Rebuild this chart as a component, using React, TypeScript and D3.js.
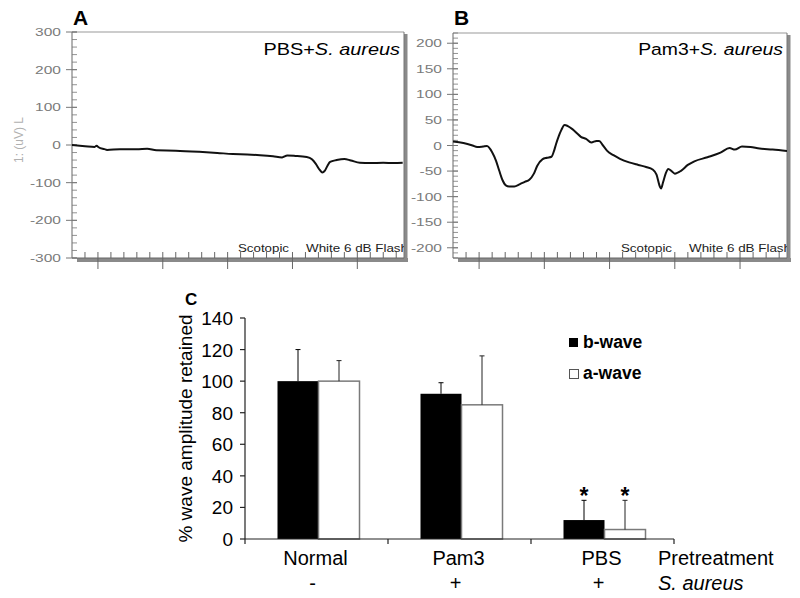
import React from "react";
import * as d3 from "d3";

// ---------- Panel A: PBS + S. aureus ERG trace ----------
const timeA = [-20, -10, -2.5, -1, 0.5, 5, 7, 17, 30, 38, 45, 60, 78, 92, 104, 115, 125, 135, 142, 146, 152, 161, 165, 168, 171, 173, 175, 177, 179, 184, 190, 195, 202, 210, 220, 228, 235];
const voltA = [0, -3, -5, -2, -6, -11, -13, -11, -11, -10, -14, -15, -18, -21, -24, -25, -27, -30, -33, -28, -29, -32, -38, -50, -66, -73, -68, -55, -45, -40, -37, -41, -47, -48, -47, -48, -47];

// ---------- Panel B: Pam3 + S. aureus ERG trace ----------
const timeB = [-20, -12, -5, -1.5, 3, 6, 10, 13, 15.4, 18, 20.5, 23, 27, 31, 35, 38.5, 42, 44.5, 48.5, 52, 55.5, 57.5, 59, 61, 63, 65.5, 68, 71.5, 75, 78, 82, 86, 90, 92, 95, 98, 103, 108, 115, 122, 128, 133, 136, 138.5, 139.5, 141, 143, 145, 147.5, 150, 155, 160, 165, 175, 185, 192, 196, 201.5, 208, 215, 225, 236];
const voltB = [8, 5, 0, -3, -2, -1, -13, -30, -49, -68, -78, -80, -80, -76, -71, -67, -55, -40, -27, -24, -22, -10, 3, 18, 30, 40, 38, 32, 24, 17, 13, 6, 9, 9, 0, -10, -19, -26, -33, -38, -42, -47, -57, -80, -84, -72, -55, -46, -50, -55, -49, -38, -31, -23, -14, -5, -8, -2, -3, -6, -8, -11];

const yTicksA = [-300, -200, -100, 0, 100, 200, 300];
const yTicksB = [-200, -150, -100, -50, 0, 50, 100, 150, 200];

// ---------- Panel C: bar chart ----------
const groups = ["Normal", "Pam3", "PBS"];
const treatment = ["-", "+", "+"];
const bWave = [100, 92, 12];
const bErr = [20, 7, 12.5];
const aWave = [100, 85, 6];
const aErr = [13, 31, 18.5];
const significant = [false, false, true];
const yTicksC = [0, 20, 40, 60, 80, 100, 120, 140];

const FONT = "'Liberation Sans', Arial, Helvetica, sans-serif";

type ErgProps = {
  id: string;
  left: number;
  right: number;
  top: number;
  bottom: number;
  yDomain: [number, number];
  majorTicks: number[];
  minorStep: number;
  time: number[];
  volt: number[];
  letter: string;
  titleMain: string;
  titleScale: number;
  showYLabel: boolean;
};

function ErgPanel(p: ErgProps) {
  const x = d3.scaleLinear().domain([-20, 236]).range([p.left, p.right]);
  const y = d3.scaleLinear().domain(p.yDomain).range([p.bottom, p.top]);
  const pts: [number, number][] = p.time.map((t, i) => [x(t), y(p.volt[i])]);
  const line = d3.line().curve(d3.curveMonotoneX)(pts) || "";
  const minorY = d3.range(p.yDomain[0], p.yDomain[1] + 0.001, p.minorStep);
  const xTicks = d3.range(-10, 236, 10);
  const gray = "#8a8a8a";
  return (
    <g>
      <defs>
        <clipPath id={p.id}>
          <rect x={p.left} y={p.top} width={p.right - p.left} height={p.bottom - p.top} />
        </clipPath>
      </defs>
      {/* drop shadow */}
      <rect x={p.right} y={p.top + 2} width={3.5} height={p.bottom - p.top + 2} fill={gray} />
      <rect x={p.left + 5} y={p.bottom} width={p.right - p.left - 1} height={4} fill={gray} />
      {/* frame */}
      <line x1={p.left} x2={p.right} y1={p.top} y2={p.top} stroke="#9a9a9a" strokeWidth={1.2} />
      <line x1={p.right} x2={p.right} y1={p.top} y2={p.bottom} stroke="#777" strokeWidth={1} />
      <line x1={p.left} x2={p.left} y1={p.top} y2={p.bottom} stroke="#666" strokeWidth={1} />
      <line x1={p.left} x2={p.right} y1={p.bottom} y2={p.bottom} stroke="#666" strokeWidth={1} />
      {/* y minor ticks */}
      {minorY.map((v) => (
        <line key={"m" + v} x1={p.left} x2={p.left + 5} y1={y(v)} y2={y(v)} stroke="#777" strokeWidth={0.8} />
      ))}
      {/* y major ticks & labels */}
      {p.majorTicks.map((v) => (
        <g key={"M" + v}>
          <line x1={p.left - 6} x2={p.left + 5} y1={y(v)} y2={y(v)} stroke="#777" strokeWidth={1} />
          <text
            transform={`translate(${p.left - 11},${y(v) + 4}) scale(1.35,1)`}
            textAnchor="end"
            fontFamily={FONT}
            fontSize={11.5}
            fill="#7a7a7a"
          >
            {v}
          </text>
        </g>
      ))}
      {/* x ticks */}
      {xTicks.map((t) => {
        const major = Math.round(t) % 50 === 0;
        return (
          <line
            key={"x" + t}
            x1={x(t)}
            x2={x(t)}
            y1={p.bottom - 6}
            y2={major ? p.bottom + 11 : p.bottom}
            stroke="#666"
            strokeWidth={1}
          />
        );
      })}
      {/* trace */}
      <g clipPath={`url(#${p.id})`}>
        <path d={line} fill="none" stroke="#111" strokeWidth={2} strokeLinejoin="round" />
        <text x={p.right - 166} y={p.bottom - 6} fontFamily={FONT} fontSize={11.5} textLength={51} lengthAdjust="spacingAndGlyphs" fill="#222">
          Scotopic
        </text>
        <text x={p.right - 98} y={p.bottom - 6} fontFamily={FONT} fontSize={11.5} textLength={102} lengthAdjust="spacingAndGlyphs" fill="#222">
          White 6 dB Flash
        </text>
      </g>
      {/* title */}
      <text
        transform={`translate(${p.right - 4},55) scale(${p.titleScale},1)`}
        textAnchor="end"
        fontFamily={FONT}
        fontSize={17}
        fill="#000"
      >
        {p.titleMain}
        <tspan fontStyle="italic">S. aureus</tspan>
      </text>
      {/* panel letter */}
      <text x={p.left + 1} y={25} fontFamily={FONT} fontSize={21} fontWeight="bold" fill="#000">
        {p.letter}
      </text>
      {p.showYLabel && (
        <text
          transform={`translate(23,${(p.top + p.bottom) / 2 - 5}) rotate(-90)`}
          textAnchor="middle"
          fontFamily={FONT}
          fontSize={12}
          fill="#b0b0b0"
        >
          1: (uV) L
        </text>
      )}
    </g>
  );
}

function BarPanel() {
  const left = 245;
  const right = 674;
  const base = 539;
  const topY = 318;
  const x = d3.scaleBand<string>().domain(groups).range([left, right]).padding(0);
  const y = d3.scaleLinear().domain([0, 140]).range([base, topY]);
  const barW = 41;
  const split = (g: string) => (x(g) as number) + x.bandwidth() / 2 + 2;
  const ticksX = [left, ...groups.map((g) => (x(g) as number) + x.bandwidth())];
  return (
    <g fontFamily={FONT}>
      <text x={185} y={305} fontSize={17} fontWeight="bold">C</text>
      {/* y axis */}
      <line x1={left} x2={left} y1={topY} y2={base} stroke="#222" strokeWidth={1.2} />
      {yTicksC.map((v) => (
        <g key={v}>
          <line x1={left - 5} x2={left} y1={y(v)} y2={y(v)} stroke="#222" strokeWidth={1.2} />
          <text x={233} y={y(v) + 7} textAnchor="end" fontSize={19} fill="#000">
            {v}
          </text>
        </g>
      ))}
      <text transform={`translate(192,${(topY + base) / 2}) rotate(-90)`} textAnchor="middle" fontSize={19} fill="#000">
        % wave amplitude retained
      </text>
      {/* bars */}
      {groups.map((g, i) => {
        const s = split(g);
        const bx = s - barW / 2;
        const ax = s + barW / 2;
        return (
          <g key={g}>
            <rect x={s - barW} y={y(bWave[i])} width={barW} height={base - y(bWave[i])} fill="#000" />
            <rect x={s} y={y(aWave[i])} width={barW} height={base - y(aWave[i])} fill="#fff" stroke="#7a7a7a" strokeWidth={1.5} />
            {/* error bars */}
            <line x1={bx} x2={bx} y1={y(bWave[i])} y2={y(bWave[i] + bErr[i])} stroke="#000" strokeWidth={1} />
            <line x1={bx - 2.5} x2={bx + 2.5} y1={y(bWave[i] + bErr[i])} y2={y(bWave[i] + bErr[i])} stroke="#000" strokeWidth={1} />
            <line x1={ax} x2={ax} y1={y(aWave[i])} y2={y(aWave[i] + aErr[i])} stroke="#222" strokeWidth={1} />
            <line x1={ax - 2.5} x2={ax + 2.5} y1={y(aWave[i] + aErr[i])} y2={y(aWave[i] + aErr[i])} stroke="#222" strokeWidth={1} />
            {significant[i] && (
              <>
                <text x={bx} y={y(bWave[i] + bErr[i]) + 4} textAnchor="middle" fontSize={23} fontWeight="bold">*</text>
                <text x={ax} y={y(aWave[i] + aErr[i]) + 4} textAnchor="middle" fontSize={23} fontWeight="bold">*</text>
              </>
            )}
            <text x={s - 3} y={565} textAnchor="middle" fontSize={20}>{g}</text>
            <text x={s - 6} y={590} textAnchor="middle" fontSize={20}>{treatment[i]}</text>
          </g>
        );
      })}
      {/* x axis */}
      <line x1={left} x2={right} y1={base} y2={base} stroke="#222" strokeWidth={1.2} />
      {ticksX.map((t) => (
        <line key={t} x1={t} x2={t} y1={base} y2={base + 5} stroke="#222" strokeWidth={1.2} />
      ))}
      <text x={658} y={565} fontSize={20}>Pretreatment</text>
      <text x={658} y={590} fontSize={20} fontStyle="italic">S. aureus</text>
      {/* legend */}
      <rect x={569} y={338} width={9} height={9} fill="#000" />
      <text x={583} y={348} fontSize={17.5} fontWeight="bold">b-wave</text>
      <rect x={569.5} y={369.5} width={9} height={9} fill="#fff" stroke="#555" strokeWidth={1} />
      <text x={583} y={379} fontSize={17.5} fontWeight="bold">a-wave</text>
    </g>
  );
}

export default function App() {
  return (
    <svg width={800} height={598} style={{ position: "absolute", left: 0, top: 0, background: "#fff" }}>
      <rect x={0} y={0} width={800} height={598} fill="#fff" />
      <ErgPanel
        id="clipA"
        left={72}
        right={404}
        top={32}
        bottom={258}
        yDomain={[-300, 300]}
        majorTicks={yTicksA}
        minorStep={20}
        time={timeA}
        volt={voltA}
        letter="A"
        titleMain="PBS+"
        titleScale={1.17}
        showYLabel={true}
      />
      <ErgPanel
        id="clipB"
        left={453}
        right={787}
        top={33}
        bottom={258}
        yDomain={[-220, 220]}
        majorTicks={yTicksB}
        minorStep={10}
        time={timeB}
        volt={voltB}
        letter="B"
        titleMain="Pam3+"
        titleScale={1.14}
        showYLabel={false}
      />
      <BarPanel />
    </svg>
  );
}
